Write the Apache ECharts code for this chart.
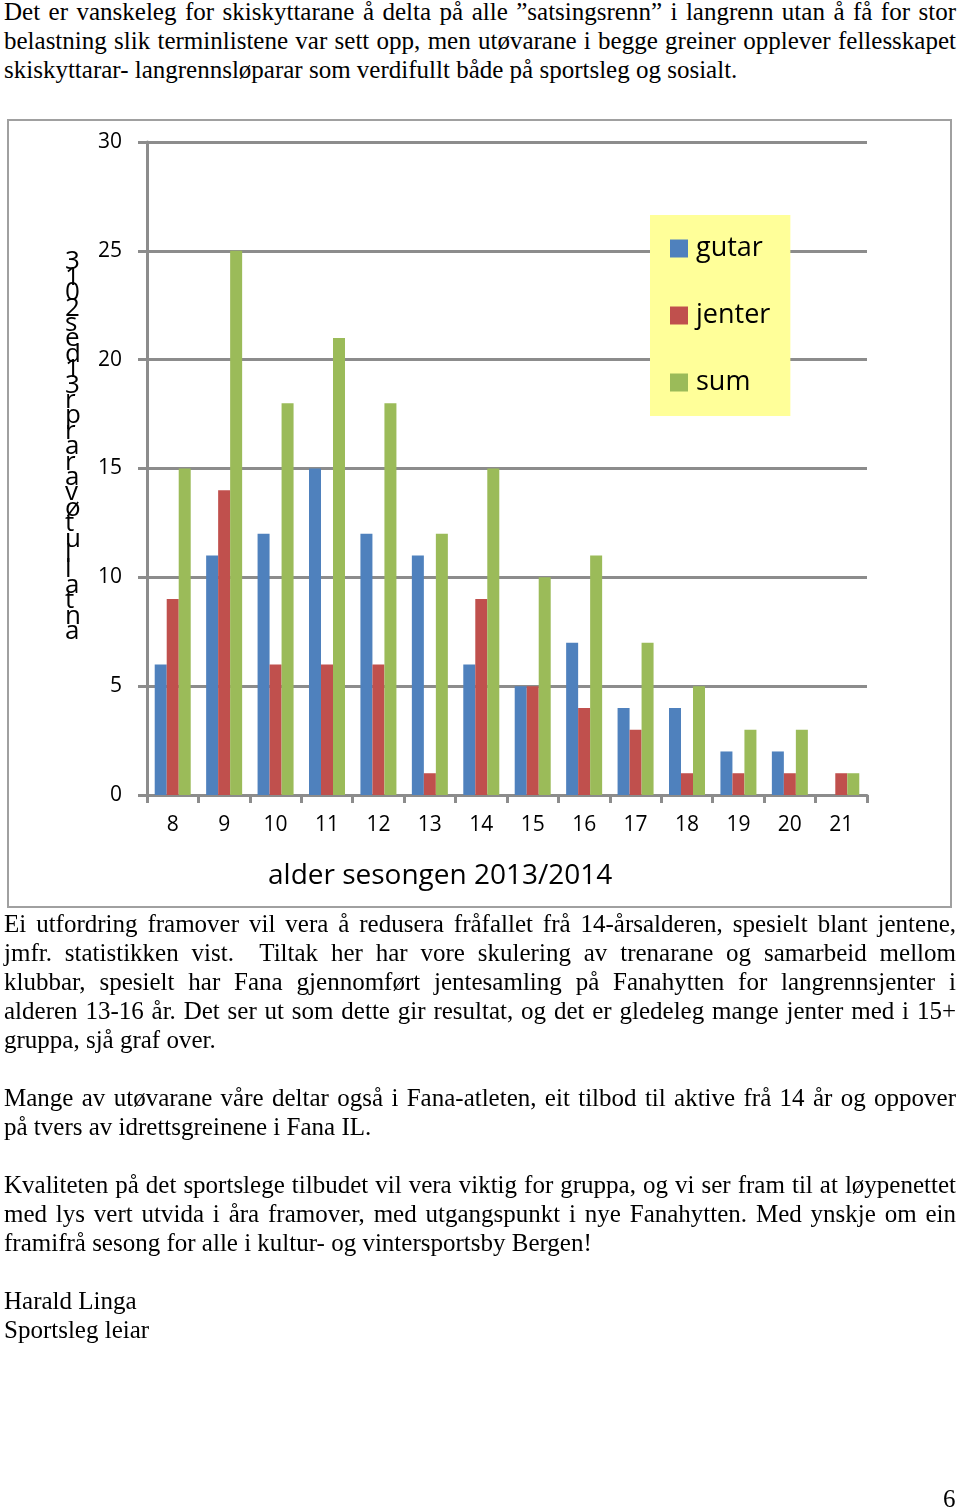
<!DOCTYPE html>
<html>
<head>
<meta charset="utf-8">
<script src="https://cdn.jsdelivr.net/npm/echarts@6/dist/echarts.min.js"></script>
<style>
html,body{margin:0;padding:0;background:#fff;}
body{width:960px;height:1509px;position:relative;overflow:hidden;font-family:"Liberation Serif","Times New Roman",serif;color:#000;}
.blk{position:absolute;left:4px;width:952px;font-size:25px;line-height:29px;}
.j{white-space:nowrap;text-align:justify;text-align-last:justify;}
.l{white-space:nowrap;text-align:left;}
#frame{position:absolute;left:7px;top:119px;width:945px;height:789px;border:2px solid #A0A0A0;box-sizing:border-box;}
#chart{position:absolute;left:0;top:0;width:960px;height:1509px;}
#pg{position:absolute;left:943px;top:1484px;font-size:25px;line-height:29px;}
</style>
</head>
<body>
<div class="blk" style="top:-3px">
<div class="j">Det er vanskeleg for skiskyttarane å delta på alle ”satsingsrenn” i langrenn utan å få for stor</div>
<div class="j">belastning slik terminlistene var sett opp, men utøvarane i begge greiner opplever fellesskapet</div>
<div class="l">skiskyttarar- langrennsløparar som verdifullt både på sportsleg og sosialt.</div>
</div>
<div id="frame"></div>
<div id="chart"></div>
<div class="blk" style="top:909px">
<div class="j">Ei utfordring framover vil vera å redusera fråfallet frå 14-årsalderen, spesielt blant jentene,</div>
<div class="j">jmfr. statistikken vist.&nbsp; Tiltak her har vore skulering av trenarane og samarbeid mellom</div>
<div class="j">klubbar, spesielt har Fana gjennomført jentesamling på Fanahytten for langrennsjenter i</div>
<div class="j">alderen 13-16 år. Det ser ut som dette gir resultat, og det er gledeleg mange jenter med i 15+</div>
<div class="l">gruppa, sjå graf over.</div>
</div>
<div class="blk" style="top:1083px">
<div class="j">Mange av utøvarane våre deltar også i Fana-atleten, eit tilbod til aktive frå 14 år og oppover</div>
<div class="l">på tvers av idrettsgreinene i Fana IL.</div>
</div>
<div class="blk" style="top:1170px">
<div class="j">Kvaliteten på det sportslege tilbudet vil vera viktig for gruppa, og vi ser fram til at løypenettet</div>
<div class="j">med lys vert utvida i åra framover, med utgangspunkt i nye Fanahytten. Med ynskje om ein</div>
<div class="l">framifrå sesong for alle i kultur- og vintersportsby Bergen!</div>
</div>
<div class="blk" style="top:1286px">
<div class="l">Harald Linga</div>
<div class="l">Sportsleg leiar</div>
</div>
<div id="pg">6</div>
<script>
// fit justified lines that are naturally wider than the text column
(function(){
  var lines = document.querySelectorAll('.j');
  for (var i = 0; i < lines.length; i++) {
    var d = lines[i];
    var s = document.createElement('span');
    s.textContent = d.textContent;
    s.style.whiteSpace = 'nowrap';
    d.textContent = '';
    d.appendChild(s);
    var w = s.getBoundingClientRect().width;
    var spaces = (s.textContent.match(/[ \u00a0]/g) || []).length;
    if (w > 952 && spaces > 0) {
      d.style.wordSpacing = ((952 - w) / spaces - 0.5) + 'px';
    }
    d.textContent = s.textContent;
  }
})();

var categories = ['8','9','10','11','12','13','14','15','16','17','18','19','20','21'];
var gutar  = [6, 11, 12, 15, 12, 11, 6, 5, 7, 4, 4, 2, 2, 0];
var jenter = [9, 14, 6, 6, 6, 1, 9, 5, 4, 3, 1, 1, 1, 1];
var sum    = [15, 25, 18, 21, 18, 12, 15, 10, 11, 7, 5, 3, 3, 1];
var seriesNames = ['gutar', 'jenter', 'sum'];
var xTitle = 'alder sesongen 2013/2014';
var yTitle = 'antallutøvararpr31des2013';

var font = '"Open Sans", Lato, sans-serif';
var grey = '#8C8C8C';
var chart = echarts.init(document.getElementById('chart'), null, {renderer:'canvas'});
var yChars = yTitle.split('').reverse().join('\n');
chart.setOption({
  animation: false,
  backgroundColor: 'transparent',
  color: ['#4F81BD', '#C0504D', '#9BBB59'],
  textStyle: {fontFamily: font},
  grid: {left: 147, right: 93, top: 142, bottom: 714, containLabel: false},
  legend: {
    orient: 'vertical', left: 650, top: 215,
    backgroundColor: '#FFFF99',
    padding: [20, 20, 20, 20],
    itemGap: 40, itemWidth: 18, itemHeight: 18,
    icon: 'rect',
    textStyle: {fontSize: 27, color: '#000', fontFamily: font, padding: [0, 0, 0, 3]},
    data: seriesNames
  },
  title: {
    text: xTitle, left: 268, top: 862, padding: 0,
    textStyle: {fontSize: 28, fontWeight: 'normal', color: '#000', fontFamily: font}
  },
  graphic: [{
    type: 'text', left: 65, top: 249, silent: true,
    style: {text: yChars, font: '26px ' + font, lineHeight: 15.4, fill: '#000', textAlign: 'left'}
  }],
  xAxis: {
    type: 'category', data: categories,
    axisLine: {show: true, lineStyle: {color: grey, width: 3}},
    axisTick: {show: true, length: 8, inside: false, alignWithLabel: false, lineStyle: {color: grey, width: 3}},
    axisLabel: {fontSize: 21, color: '#000', margin: 20, fontFamily: font},
    splitLine: {show: false}
  },
  yAxis: {
    type: 'value', min: 0, max: 30, interval: 5,
    axisLine: {show: true, lineStyle: {color: grey, width: 3}},
    axisTick: {show: true, length: 9, inside: false, lineStyle: {color: grey, width: 3}},
    axisLabel: {fontSize: 21, color: '#000', margin: 25, fontFamily: font},
    splitLine: {show: true, lineStyle: {color: grey, width: 3}}
  },
  series: [
    {name: seriesNames[0], type: 'bar', data: gutar, barGap: '0%', barCategoryGap: '30%'},
    {name: seriesNames[1], type: 'bar', data: jenter, barGap: '0%', barCategoryGap: '30%'},
    {name: seriesNames[2], type: 'bar', data: sum, barGap: '0%', barCategoryGap: '30%'}
  ]
});
</script>
</body>
</html>
